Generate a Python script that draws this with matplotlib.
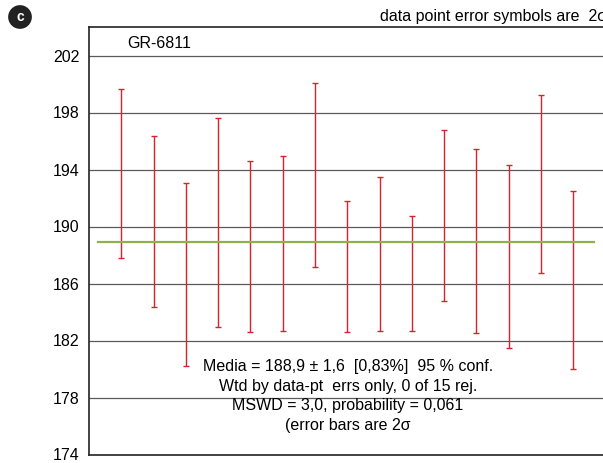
import numpy as np
import matplotlib
matplotlib.use('Agg')
import matplotlib.pyplot as plt

plt.rcParams['font.family'] = ['Liberation Sans', 'DejaVu Sans']

# idades (centro) e erros 2 sigma
idades = [193.71, 190.34, 186.62, 190.29, 188.59, 188.83, 193.62, 187.21,
          188.07, 186.73, 190.78, 188.98, 187.89, 192.98, 186.26]
erros = [5.92, 5.99, 6.41, 7.32, 6.02, 6.14, 6.46, 4.59,
         5.38, 4.04, 6.01, 6.45, 6.44, 6.22, 6.24]
media = 188.9
yticks = [174, 178, 182, 186, 190, 194, 198, 202]

fig = plt.figure(figsize=(6.03, 4.63), dpi=100)
ax = fig.add_axes([89 / 603, 1 - 454.5 / 463, 516.5 / 603, (454.5 - 27) / 463])

x = np.arange(1, len(idades) + 1)
ax.errorbar(x, idades, yerr=erros, fmt='none', ecolor='#d8222e',
            elinewidth=1.0, capsize=2.2, capthick=1.0, zorder=3)
ax.plot([0.29, 15.64], [media, media], color='#8fb04c', lw=1.6, zorder=4)

ax.set_xlim(0, 16)
ax.set_ylim(174, 204)
ax.set_yticks(yticks)
ax.set_xticks([])
ax.tick_params(axis='y', length=0, pad=7, labelsize=11.5)
for t in yticks[1:]:
    ax.axhline(t, color='#5a5a5a', lw=0.9, zorder=1)
for s in ['left', 'bottom', 'top']:
    ax.spines[s].set_color('#222222')
    ax.spines[s].set_linewidth(1.2)
ax.spines['right'].set_visible(False)

fig.text(127 / 603, 1 - 43 / 463, 'GR-6811', fontsize=11.5, va='center')

texto = ('Media = 188,9 ± 1,6  [0,83%]  95 % conf.\n'
         'Wtd by data-pt  errs only, 0 of 15 rej.\n'
         'MSWD = 3,0, probability = 0,061\n'
         '(error bars are 2σ')
fig.text(348 / 603, 1 - 359 / 463, texto, ha='center', va='top', fontsize=11.5,
         linespacing=1.38)
fig.text(380 / 603, 1 - 17 / 463, 'data point error symbols are  2σ',
         ha='left', va='center', fontsize=11.5)

# letra do painel
fig.text(20 / 603, 1 - 17 / 463, 'c', ha='center', va='center', color='white',
         fontsize=10, fontweight='bold',
         bbox=dict(boxstyle='circle,pad=0.35', fc='#222222', ec='none'))

fig.savefig('out.png', dpi=100)
